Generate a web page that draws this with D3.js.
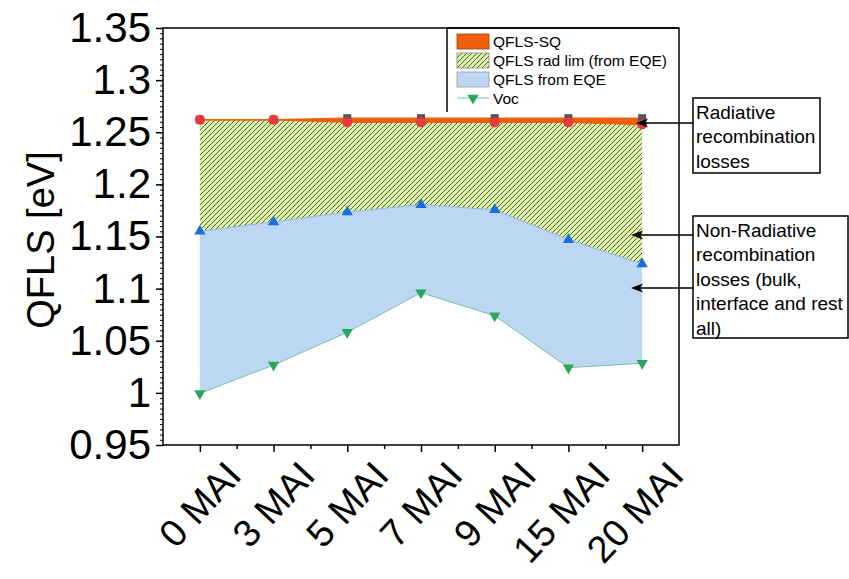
<!DOCTYPE html>
<html>
<head>
<meta charset="utf-8">
<script src="https://cdn.jsdelivr.net/npm/d3@7"></script>
<style>
  body { margin: 0; background: #fff; }
  svg { font-family: "Liberation Sans", Arial, sans-serif; }
</style>
</head>
<body>
<div id="vis"></div>
<script>
// data
const CATEGORIES = ["0 MAI", "3 MAI", "5 MAI", "7 MAI", "9 MAI", "15 MAI", "20 MAI"];
const QFLS_SQ = [1.262, 1.262, 1.2635, 1.2635, 1.2635, 1.2635, 1.2635];
const QFLS_RAD = [1.262, 1.262, 1.2595, 1.2595, 1.2595, 1.2595, 1.2575];
const QFLS_EQE = [1.155, 1.164, 1.1735, 1.1805, 1.1757, 1.147, 1.1236];
const VOC = [0.9995, 1.0267, 1.0581, 1.0961, 1.074, 1.0242, 1.0284];
const Y_TICKS = [0.95, 1, 1.05, 1.1, 1.15, 1.2, 1.25, 1.3, 1.35];
const LEGEND = ["QFLS-SQ", "QFLS rad lim (from EQE)", "QFLS from EQE", "Voc"];
const NOTE1 = ["Radiative", "recombination", "losses"];
const NOTE2 = ["Non-Radiative", "recombination", "losses (bulk,", "interface and rest", "all)"];

const FRAME_WIDTH = 849;
const FRAME_HEIGHT = 579;
const PLOT = {left: 163, right: 679, top: 28, bottom: 445};

const svg = d3.select("#vis")
              .append("svg")
              .attr("width", FRAME_WIDTH)
              .attr("height", FRAME_HEIGHT);

const X_SCALE = d3.scaleLinear().domain([-0.5, 6.5]).range([PLOT.left, PLOT.right]);
const Y_SCALE = d3.scaleLinear().domain([0.95, 1.35]).range([PLOT.bottom, PLOT.top]);

// hatch pattern
const defs = svg.append("defs");
const pat = defs.append("pattern")
    .attr("id", "hatch")
    .attr("patternUnits", "userSpaceOnUse")
    .attr("width", 5).attr("height", 5);
pat.append("rect").attr("width", 5).attr("height", 5).attr("fill", "#dcf1a9");
pat.append("path")
    .attr("d", "M-1,1 l2,-2 M0,5 l5,-5 M4,6 l2,-2")
    .attr("stroke", "#46552d").attr("stroke-width", 0.9);

const idx = d3.range(CATEGORIES.length);

const band = (lo, hi) => d3.area()
    .x(i => X_SCALE(i))
    .y0(i => Y_SCALE(lo[i]))
    .y1(i => Y_SCALE(hi[i]));

// areas
svg.append("path").datum(idx).attr("d", band(VOC, QFLS_EQE)).attr("fill", "#bcd6f3");
svg.append("path").datum(idx).attr("d", band(QFLS_EQE, QFLS_RAD)).attr("fill", "url(#hatch)");
svg.append("path").datum(idx).attr("d", band(QFLS_RAD, QFLS_SQ)).attr("fill", "#f0600c");

const line = (arr) => d3.line().x(i => X_SCALE(i)).y(i => Y_SCALE(arr[i]));
svg.append("path").datum(idx).attr("d", line(QFLS_SQ)).attr("fill", "none")
   .attr("stroke", "#e8620f").attr("stroke-width", 1.5);
svg.append("path").datum(idx).attr("d", line(QFLS_RAD)).attr("fill", "none")
   .attr("stroke", "#e8620f").attr("stroke-width", 1.5);
svg.append("path").datum(idx).attr("d", line(QFLS_EQE)).attr("fill", "none")
   .attr("stroke", "#8fb8e6").attr("stroke-width", 1);
svg.append("path").datum(idx).attr("d", line(VOC)).attr("fill", "none")
   .attr("stroke", "#74c59b").attr("stroke-width", 1);

// markers
svg.selectAll(".sq").data(idx).enter().append("rect")
   .attr("x", i => X_SCALE(i) - 4).attr("y", i => Y_SCALE(QFLS_SQ[i]) - 4)
   .attr("width", 8).attr("height", 8).attr("fill", "#555");
svg.selectAll(".rad").data(idx).enter().append("circle")
   .attr("cx", i => X_SCALE(i)).attr("cy", i => Y_SCALE(QFLS_RAD[i]))
   .attr("r", 5).attr("fill", "#e83a3c");
const triUp = d3.symbol().type(d3.symbolTriangle).size(55);
svg.selectAll(".eqe").data(idx).enter().append("path")
   .attr("d", triUp)
   .attr("transform", i => "translate(" + X_SCALE(i) + "," + Y_SCALE(QFLS_EQE[i]) + ")")
   .attr("fill", "#1a6ddb");
svg.selectAll(".voc").data(idx).enter().append("path")
   .attr("d", triUp)
   .attr("transform", i => "translate(" + X_SCALE(i) + "," + Y_SCALE(VOC[i]) + ") rotate(180)")
   .attr("fill", "#2aa55c");

// frame
svg.append("rect")
   .attr("x", PLOT.left).attr("y", PLOT.top)
   .attr("width", PLOT.right - PLOT.left).attr("height", PLOT.bottom - PLOT.top)
   .attr("fill", "none").attr("stroke", "#000").attr("stroke-width", 1.5);

// y axis
const yMinor = d3.range(0, 81).map(k => 0.95 + k * 0.005);
svg.append("g")
   .attr("transform", "translate(" + PLOT.left + ",0)")
   .call(d3.axisLeft(Y_SCALE).tickValues(yMinor).tickSize(3).tickFormat(""))
   .call(g => g.select(".domain").remove());
const yAxis = svg.append("g")
   .attr("transform", "translate(" + PLOT.left + ",0)")
   .call(d3.axisLeft(Y_SCALE).tickValues(Y_TICKS).tickSize(7).tickPadding(5)
         .tickFormat(d => String(+d.toFixed(2))));
yAxis.select(".domain").remove();
yAxis.selectAll("line").attr("stroke-width", 1.5);
yAxis.selectAll("text").attr("font-size", "42px").attr("font-family", "Liberation Sans, Arial, sans-serif");

// x axis
const xAxis = svg.append("g")
   .attr("transform", "translate(0," + PLOT.bottom + ")")
   .call(d3.axisBottom(X_SCALE).tickValues(idx).tickSize(7).tickFormat(""));
xAxis.select(".domain").remove();
xAxis.selectAll("line").attr("stroke-width", 1.5);
svg.append("g")
   .attr("transform", "translate(0," + PLOT.bottom + ")")
   .call(d3.axisBottom(X_SCALE).tickValues(idx.slice(0, 6).map(i => i + 0.5)).tickSize(4).tickFormat(""))
   .call(g => g.select(".domain").remove())
   .selectAll("line").attr("stroke-width", 1.5);

svg.selectAll(".xlab").data(CATEGORIES).enter().append("text")
   .attr("transform", (d, i) => "translate(" + (X_SCALE(i) + 24) + "," + (PLOT.bottom + 14) + ") rotate(-47)")
   .attr("text-anchor", "end")
   .attr("dy", "0.7em")
   .attr("font-size", "38px")
   .text(d => d);

// y title
svg.append("text")
   .attr("transform", "translate(54,240) rotate(-90)")
   .attr("text-anchor", "middle")
   .attr("font-size", "38px")
   .text("QFLS [eV]");

// legend
const LG = {x: 447, y: 28};
svg.append("path")
   .attr("d", "M" + LG.x + "," + (LG.y + 84) + " V" + LG.y + " H" + PLOT.right)
   .attr("fill", "none").attr("stroke", "#000").attr("stroke-width", 1.5);
const swFill = ["#f0600c", "url(#hatch)", "#bcd6f3"];
const swStroke = ["#a04010", "#888", "#999"];
LEGEND.forEach((t, i) => {
  const cy = LG.y + 13 + i * 19;
  if (i < 3) {
    svg.append("rect").attr("x", 457).attr("y", cy - 7).attr("width", 32).attr("height", 15)
       .attr("fill", swFill[i]).attr("stroke", swStroke[i]).attr("stroke-width", 0.8);
  } else {
    svg.append("line").attr("x1", 457).attr("x2", 489).attr("y1", cy).attr("y2", cy)
       .attr("stroke", "#74c59b").attr("stroke-width", 1);
    svg.append("path").attr("d", triUp)
       .attr("transform", "translate(473," + cy + ") rotate(180)").attr("fill", "#2aa55c");
  }
  svg.append("text").attr("x", 493).attr("y", cy).attr("dy", "0.36em")
     .attr("font-size", "15.5px").text(t);
});

// annotations
function note(lines, bx, by, bw, bh, arrows) {
  svg.append("rect").attr("x", bx).attr("y", by).attr("width", bw).attr("height", bh)
     .attr("fill", "#fff").attr("stroke", "#000").attr("stroke-width", 1.5);
  lines.forEach((t, i) => {
    svg.append("text").attr("x", bx + 3).attr("y", by + 14 + i * 24.5).attr("dy", "0.36em")
       .attr("font-size", "19px").text(t);
  });
  arrows.forEach(a => {
    svg.append("line").attr("x1", bx).attr("x2", a.x + 6).attr("y1", a.y).attr("y2", a.y)
       .attr("stroke", "#000").attr("stroke-width", 1.3);
    svg.append("path").attr("d", "M" + a.x + "," + a.y + " l12,-4.5 l-3,4.5 l3,4.5 z").attr("fill", "#000");
  });
}
note(NOTE1, 693, 98, 127, 75, [{x: 636, y: 123}]);
note(NOTE2, 693, 216, 155, 122, [{x: 631, y: 235}, {x: 631, y: 288}]);
</script>
</body>
</html>
